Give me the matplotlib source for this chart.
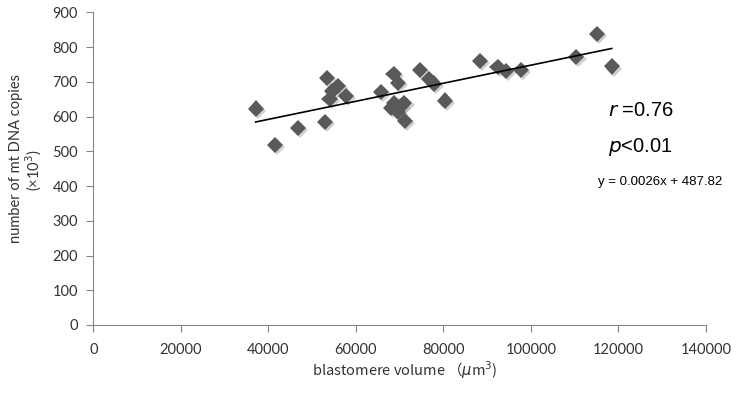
import numpy as np
import matplotlib.pyplot as plt
import matplotlib.patheffects as pe

# blastomere volume (um^3) vs mtDNA copies (x10^3)
volume = [37100, 41600, 46840, 52900, 53400, 53980, 54500, 55900, 57800,
          65770, 68600, 69560, 68050, 68810, 69560, 71090, 70200, 71240,
          74700, 76700, 77850, 80400, 88420, 92360, 94270, 97690,
          110380, 115100, 118450]
copies = [623, 518, 567, 585, 712, 650, 672, 687, 659,
          670, 723, 697, 624, 638, 614, 640, 630, 588,
          734, 708, 695, 646, 761, 742, 732, 734,
          771, 838, 744]
slope = 0.0026
intercept = 487.82
xticks = [0, 20000, 40000, 60000, 80000, 100000, 120000, 140000]
yticks = [0, 100, 200, 300, 400, 500, 600, 700, 800, 900]

plt.rcParams['font.family'] = ['Lato', 'DejaVu Sans']

fig = plt.figure(figsize=(7.42, 3.96), dpi=100)
ax = fig.add_axes([0.1257, 0.1793, 0.8258, 0.7897])

ax.plot(volume, copies, linestyle='none', marker='D', markersize=8.2,
        color='#595959', markeredgewidth=0,
        path_effects=[pe.SimplePatchShadow(offset=(1.5, -1.5), shadow_rgbFace='#999999', alpha=0.45),
                      pe.Normal()])

# linear trendline
xs = np.array([min(volume), max(volume)])
ax.plot(xs, slope * xs + intercept, color='black', linewidth=1.2)

ax.set_xlim(0, 140000)
ax.set_ylim(0, 900)
ax.set_xticks(xticks)
ax.set_yticks(yticks)
ax.tick_params(labelsize=10.5, length=5, width=0.8, colors='#868686', labelcolor='#333333')
ax.tick_params(axis='x', direction='out', pad=8)
ax.tick_params(axis='y', direction='out', pad=6)
for s in ['top', 'right']:
    ax.spines[s].set_visible(False)
for s in ['left', 'bottom']:
    ax.spines[s].set_color('#868686')
    ax.spines[s].set_linewidth(0.8)

fig.text(0.545, 0.065, 'blastomere volume （$\\mu$m$^3$)', ha='center', va='center',
         fontsize=10.5, color='#333333', family=['Noto Sans CJK JP', 'DejaVu Sans'])
fig.text(0.021, 0.60, 'number of mt DNA copies', rotation=90, ha='center', va='center',
         fontsize=10.5, color='#333333')
fig.text(0.045, 0.57, '(×10$^3$)', rotation=90, ha='center', va='center',
         fontsize=10.5, color='#333333')

fig.text(0.819, 0.722, '$\\it{r}$ =0.76', ha='left', va='center',
         fontsize=14.5, family='Liberation Sans', color='black')
fig.text(0.819, 0.630, '$\\it{p}$<0.01', ha='left', va='center',
         fontsize=14.5, family='Liberation Sans', color='black')
fig.text(0.806, 0.540, 'y = 0.0026x + 487.82', ha='left', va='center',
         fontsize=9.5, family='Liberation Sans', color='black')

fig.savefig('out.png', dpi=100)
